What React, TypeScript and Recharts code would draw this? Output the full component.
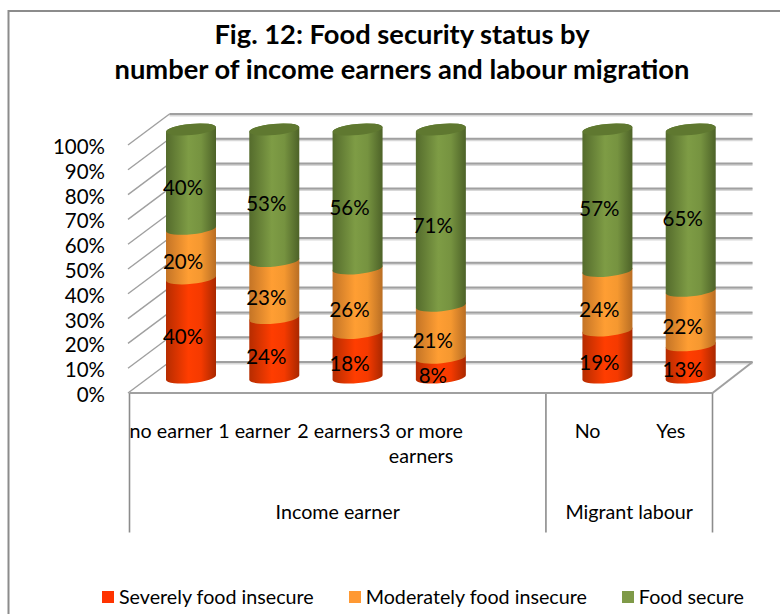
import { Bar, BarChart, CartesianGrid, LabelList, Legend, XAxis, YAxis } from "recharts";

const earnerLabels = ["no earner", "1 earner", "2 earners", "3 or more earners", "", "No", "Yes"];
const severe = [40, 24, 18, 8, null, 19, 13];
const moderate = [20, 23, 26, 21, null, 24, 22];
const secure = [40, 53, 56, 71, null, 57, 65];
const percentTicks = [0, 10, 20, 30, 40, 50, 60, 70, 80, 90, 100];
const groups = [
  { name: "Income earner", slots: 5 },
  { name: "Migrant labour", slots: 2 },
];

const rows = earnerLabels.map((label, i) => ({
  label,
  severe: severe[i],
  moderate: moderate[i],
  secure: secure[i],
}));

const FONT = "Lato, sans-serif";
const W = 780;
const H = 614;
const PLOT = { left: 129.5, right: 712.5, top: 145, bottom: 393 };
const SLOT = (PLOT.right - PLOT.left) / earnerLabels.length;
const Y_AXIS_WIDTH = 100;
const X_AXIS_HEIGHT = 1;

// 3D box: the back wall sits up and to the right of the front plane
const DEPTH_X = 40;
const DEPTH_Y = -31;
// cylinders stand in the middle of the floor
const MID_X = 19.5;
const MID_Y = -15.5;
const RY = 5.6;
const TILT = -5.5;
const TILT_RISE = 2.5;

const GRID = "#a0a0a0";

function Cylinder(props: any) {
  const { x, y, width, height, gradient, capFill } = props;
  if (!height || height <= 0 || Number.isNaN(y)) return null;
  const left = x + MID_X;
  const right = left + width;
  const rx = width / 2;
  const top = y + MID_Y;
  const bottom = y + height + MID_Y;
  const d = [
    `M${left},${top + TILT_RISE}`,
    `L${left},${bottom + TILT_RISE}`,
    `A${rx},${RY} ${TILT} 0 0 ${right},${bottom - TILT_RISE}`,
    `L${right},${top - TILT_RISE}`,
    `A${rx},${RY} ${TILT} 0 0 ${left},${top + TILT_RISE}`,
    "Z",
  ].join(" ");
  return (
    <g>
      <path d={d} fill={`url(#${gradient})`} />
      {capFill ? (
        <ellipse
          cx={left + rx}
          cy={top}
          rx={rx}
          ry={RY}
          fill={capFill}
          transform={`rotate(${TILT} ${left + rx} ${top})`}
        />
      ) : null}
    </g>
  );
}

function PercentLabel(props: any) {
  const { x, y, width, height, value } = props;
  if (value == null) return null;
  return (
    <text
      x={x + width / 2 + 11.5}
      y={y + height / 2 - 7.6}
      textAnchor="middle"
      dominantBaseline="central"
      fontFamily={FONT}
      fontSize={20.5}
      fill="#000"
    >
      {value}%
    </text>
  );
}

// side wall and back wall segments for each gridline
function WallLine(props: any) {
  const { x1, x2, y1 } = props;
  const backY = y1 + DEPTH_Y;
  return (
    <g>
      <line x1={x1 + DEPTH_X} x2={x2 + DEPTH_X} y1={backY + 1} y2={backY + 1} stroke="#d8d8d8" strokeWidth={3} />
      <line x1={x1 + DEPTH_X} x2={x2 + DEPTH_X} y1={backY} y2={backY} stroke={GRID} strokeWidth={2} />
      <line x1={x1 - 1.5} x2={x1 + DEPTH_X} y1={y1} y2={backY} stroke={GRID} strokeWidth={1.4} />
    </g>
  );
}

function EarnerTick(props: any) {
  const { x, payload } = props;
  const text: string = payload.value;
  if (!text) return null;
  const lines = text.startsWith("3 or more") ? ["3 or more", "earners"] : [text];
  return (
    <text textAnchor="middle" fontFamily={FONT} fontSize={19.7} fill="#000">
      {lines.map((line, i) => (
        <tspan key={line} x={x} y={438 + i * 25}>
          {line}
        </tspan>
      ))}
    </text>
  );
}

function PercentTick(props: any) {
  const { x, y, payload } = props;
  return (
    <text x={x} y={y + 1} textAnchor="end" dominantBaseline="central" fontFamily={FONT} fontSize={20.5} fill="#000">
      {payload.value}%
    </text>
  );
}

function LegendRow(props: any) {
  return (
    <div
      style={{
        display: "flex",
        alignItems: "center",
        whiteSpace: "nowrap",
        fontFamily: FONT,
        fontSize: 19.7,
        color: "#000",
      }}
    >
      {props.payload.map((item: any) => (
        <span key={item.value} style={{ display: "flex", alignItems: "center", flex: "none", marginRight: 35 }}>
          <span style={{ width: 12, height: 12, background: item.color, marginRight: 5 }} />
          {item.value}
        </span>
      ))}
    </div>
  );
}

export default function App() {
  let slotStart = 0;
  return (
    <div style={{ position: "absolute", left: 0, top: 0, width: W, height: H, background: "#fff" }}>
      <BarChart
        width={W}
        height={H}
        data={rows}
        margin={{
          top: PLOT.top,
          left: PLOT.left - Y_AXIS_WIDTH,
          right: W - PLOT.right,
          bottom: H - PLOT.bottom - X_AXIS_HEIGHT,
        }}
        barSize={50}
      >
        <defs>
          <linearGradient id="redBody" x1="0" x2="1" y1="0" y2="0">
            <stop offset="0" stopColor="#b62c00" />
            <stop offset="0.45" stopColor="#ff3d00" />
            <stop offset="0.7" stopColor="#f53a00" />
            <stop offset="1" stopColor="#a92800" />
          </linearGradient>
          <linearGradient id="orangeBody" x1="0" x2="1" y1="0" y2="0">
            <stop offset="0" stopColor="#c47426" />
            <stop offset="0.45" stopColor="#ff9e33" />
            <stop offset="0.7" stopColor="#f59830" />
            <stop offset="1" stopColor="#b96e24" />
          </linearGradient>
          <linearGradient id="greenBody" x1="0" x2="1" y1="0" y2="0">
            <stop offset="0" stopColor="#546b2c" />
            <stop offset="0.45" stopColor="#7e9c45" />
            <stop offset="0.7" stopColor="#769340" />
            <stop offset="1" stopColor="#4d6228" />
          </linearGradient>
        </defs>

        <rect x={8.5} y={11} width={W + 20} height={H + 20} fill="none" stroke="#8c8c8c" strokeWidth={2} />

        <text textAnchor="middle" fontFamily={FONT} fontWeight={700} fontSize={27.3} fill="#000">
          <tspan x={402} y={44}>Fig. 12: Food security status by</tspan>
          <tspan x={402} y={78.5}>number of income earners and labour migration</tspan>
        </text>

        <CartesianGrid vertical={false} horizontal={<WallLine />} syncWithTicks />

        <XAxis
          dataKey="label"
          height={X_AXIS_HEIGHT}
          axisLine={{ stroke: GRID, strokeWidth: 2 }}
          tickLine={false}
          interval={0}
          tick={<EarnerTick />}
        />
        <YAxis
          domain={[0, 100]}
          ticks={percentTicks}
          axisLine={false}
          tickLine={false}
          width={Y_AXIS_WIDTH}
          tickSize={0}
          tickMargin={24.5}
          tick={<PercentTick />}
          interval={0}
        />

        {/* right floor edge and the category brackets under the axis */}
        <line
          x1={PLOT.right}
          y1={PLOT.bottom}
          x2={PLOT.right + DEPTH_X}
          y2={PLOT.bottom + DEPTH_Y}
          stroke={GRID}
          strokeWidth={2}
        />
        {[0, 5, 7].map((slot) => (
          <line
            key={slot}
            x1={PLOT.left + slot * SLOT}
            x2={PLOT.left + slot * SLOT}
            y1={PLOT.bottom}
            y2={532.5}
            stroke="#8c8c8c"
            strokeWidth={1.6}
          />
        ))}
        {groups.map((group) => {
          const cx = PLOT.left + (slotStart + group.slots / 2) * SLOT;
          slotStart += group.slots;
          return (
            <text key={group.name} x={cx} y={519} textAnchor="middle" fontFamily={FONT} fontSize={19.7} fill="#000">
              {group.name}
            </text>
          );
        })}

        <Bar
          dataKey="severe"
          name="Severely food insecure"
          stackId="a"
          fill="#ff3300"
          isAnimationActive={false}
          shape={<Cylinder gradient="redBody" />}
        >
          <LabelList dataKey="severe" content={<PercentLabel />} />
        </Bar>
        <Bar
          dataKey="moderate"
          name="Moderately food insecure"
          stackId="a"
          fill="#ff9933"
          isAnimationActive={false}
          shape={<Cylinder gradient="orangeBody" />}
        >
          <LabelList dataKey="moderate" content={<PercentLabel />} />
        </Bar>
        <Bar
          dataKey="secure"
          name="Food secure"
          stackId="a"
          fill="#7f9a48"
          isAnimationActive={false}
          shape={<Cylinder gradient="greenBody" capFill="#5f7830" />}
        >
          <LabelList dataKey="secure" content={<PercentLabel />} />
        </Bar>

        <Legend
          layout="horizontal"
          verticalAlign="middle"
          itemSorter={null}
          wrapperStyle={{ position: "absolute", left: 102, top: 585, width: 670 }}
          content={(p: any) => <LegendRow payload={p.payload} />}
        />
      </BarChart>
    </div>
  );
}
